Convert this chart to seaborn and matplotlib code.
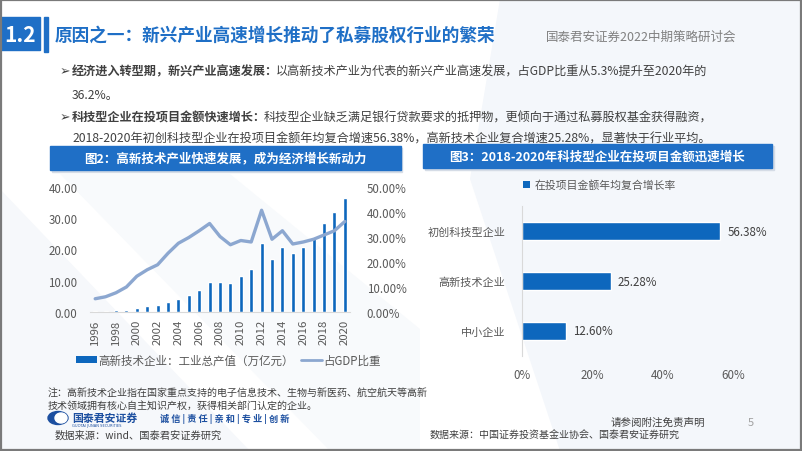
import numpy as np
import pandas as pd
import matplotlib
matplotlib.use("Agg")
import matplotlib.pyplot as plt
import seaborn as sns
from matplotlib.patches import Rectangle, Polygon, Patch, Ellipse
from matplotlib.lines import Line2D

# ---------------- data ----------------
years = [str(y) for y in range(1996, 2021)]
output_value = [0.2, 0.3, 0.5, 0.8, 1.3, 1.9, 2.2, 3.2, 4.2, 5.3, 6.9, 9.5, 9.5, 9.3,
                11.6, 13.8, 22.0, 17.1, 20.9, 18.8, 20.9, 24.1, 28.6, 32.1, 36.5]
gdp_share = [5.3, 6.1, 7.7, 10.0, 14.3, 16.9, 18.9, 23.5, 27.5, 29.8, 32.5, 35.4, 30.2, 26.9,
             28.6, 28.0, 40.7, 29.1, 32.5, 27.2, 28.0, 29.1, 30.8, 32.5, 36.2]
left_ticks = [0, 10, 20, 30, 40]
right_ticks = [0, 10, 20, 30, 40, 50]

categories = ["初创科技型企业", "高新技术企业", "中小企业"]
growth = [56.38, 25.28, 12.60]
growth_ticks = [0, 20, 40, 60]

# ---------------- style ----------------
sns.set_theme(style="white")
plt.rcParams['font.family'] = ['Noto Sans CJK SC', 'DejaVu Sans']
plt.rcParams['axes.unicode_minus'] = False

BLUE = "#1F6FC6"
BAR = "#0D67BD"
LINE = "#8CA7D0"
TXT = "#404040"
TICK = "#595959"

W, H = 802, 452
fig = plt.figure(figsize=(W / 100, H / 100), dpi=100)
fig.patch.set_facecolor("white")

bg = fig.add_axes([0, 0, 1, 1])
bg.set_xlim(0, W)
bg.set_ylim(H, 0)
bg.axis("off")
bg.set_zorder(0)

# faint background shapes
bg.add_patch(Polygon([(500, 0), (802, 0), (802, 452), (560, 452), (470, 180)],
                     closed=True, color="#F4F7FB", zorder=0, lw=0))
bg.add_patch(Polygon([(0, 190), (0, 452), (250, 452)],
                     closed=True, color="#F6F8FB", zorder=0, lw=0))
bg.add_patch(Polygon([(60, 175), (230, 175), (420, 330), (420, 452), (330, 452)],
                     closed=True, color="#F8FAFC", zorder=0, lw=0))

# frame
bg.add_patch(Rectangle((0.5, 0.5), W - 2, H - 2, fill=False, ec="#7A7A7A", lw=1.6, zorder=5))

# header
bg.add_patch(Rectangle((1, 18), 39, 33, color=BLUE, zorder=2))
bg.text(20.5, 35, "1.2", color="white", fontsize=15, fontweight="bold",
        ha="center", va="center", zorder=3)
bg.add_patch(Rectangle((44, 18), 4, 35, color=BLUE, zorder=2))
bg.text(55, 36, "原因之一：新兴产业高速增长推动了私募股权行业的繁荣", color=BLUE,
        fontsize=12.7, fontweight="bold", ha="left", va="center", zorder=3)
bg.text(546, 37, "国泰君安证券2022中期策略研讨会", color="#808080",
        fontsize=9, ha="left", va="center", zorder=3)

# bullets
FS = 8.75
def bullet_line(y, bold, rest, with_arrow=True, x=72):
    if with_arrow:
        bg.text(60, y, "➢", color=TXT, fontsize=9, ha="left", va="center",
                family="DejaVu Sans", zorder=3)
    if bold:
        t = bg.text(x, y, bold, color=TXT, fontsize=FS, fontweight="bold",
                    ha="left", va="center", zorder=3)
        bg.annotate(rest, xy=(1, 0.5), xycoords=t, xytext=(-2, 0),
                    textcoords="offset points", color=TXT, fontsize=FS,
                    ha="left", va="center", zorder=3)
    else:
        bg.text(x, y, rest, color=TXT, fontsize=FS, ha="left", va="center", zorder=3)

bullet_line(72, "经济进入转型期，新兴产业高速发展：",
            "以高新技术产业为代表的新兴产业高速发展，占GDP比重从5.3%提升至2020年的")
bullet_line(95, None, "36.2%。", with_arrow=False)
bullet_line(118, "科技型企业在投项目金额快速增长：",
            "科技型企业缺乏满足银行贷款要求的抵押物，更倾向于通过私募股权基金获得融资，")
bullet_line(139, None,
            "2018-2020年初创科技型企业在投项目金额年均复合增速56.38%，高新技术企业复合增速25.28%，显著快于行业平均。",
            with_arrow=False)

# chart title bands
bg.add_patch(Rectangle((52, 149), 350, 24, color="#D5DCE6", zorder=1))
bg.add_patch(Rectangle((50, 147), 351, 24, color=BLUE, zorder=2))
bg.text(225, 158.5, "图2：高新技术产业快速发展，成为经济增长新动力", color="white",
        fontsize=9, fontweight="bold", ha="center", va="center", zorder=3)
bg.add_patch(Rectangle((425, 147), 349, 24, color="#D5DCE6", zorder=1))
bg.add_patch(Rectangle((423, 145), 349, 24, color=BLUE, zorder=2))
bg.text(597, 157, "图3：2018-2020年科技型企业在投项目金额迅速增长", color="white",
        fontsize=9, fontweight="bold", ha="center", va="center", zorder=3)

# footnotes
bg.text(48, 394, "注：高新技术企业指在国家重点支持的电子信息技术、生物与新医药、航空航天等高新",
        color=TXT, fontsize=7.2, ha="left", va="center", zorder=3)
bg.text(48, 406, "技术领域拥有核心自主知识产权，获得相关部门认定的企业。",
        color=TXT, fontsize=7.2, ha="left", va="center", zorder=3)
# logo
bg.add_patch(Ellipse((58, 419), 20, 13, color="#1C4FA0", zorder=3))
bg.add_patch(Ellipse((61, 419), 12, 10, color="white", zorder=4))
bg.text(72, 419, "国泰君安证券", color="#1C4FA0", fontsize=7.8, fontweight="bold",
        ha="left", va="center", zorder=3)
bg.text(72, 426.5, "GUOTAI JUNAN SECURITIES", color="#1C4FA0", fontsize=2.6,
        ha="left", va="center", family="DejaVu Sans", zorder=3)
bg.text(160, 419, "诚 信 | 责 任 | 亲 和 | 专 业 | 创 新", color="#1C4FA0", fontsize=6.6,
        fontweight="bold", ha="left", va="center", zorder=3)
bg.text(55, 436, "数据来源：wind、国泰君安证券研究", color=TXT, fontsize=7.4,
        ha="left", va="center", zorder=3)
bg.text(611, 423, "请参阅附注免责声明", color=TXT, fontsize=7.6,
        ha="left", va="center", zorder=3)
bg.text(748, 423, "5", color="#A0A0A0", fontsize=8, ha="left", va="center", zorder=3)
bg.text(430, 436, "数据来源：中国证券投资基金业协会、国泰君安证券研究", color=TXT, fontsize=7.2,
        ha="left", va="center", zorder=3)


def px_axes(x0, y0, x1, y1):
    return fig.add_axes([x0 / W, 1 - y1 / H, (x1 - x0) / W, (y1 - y0) / H])

# ---------------- left chart ----------------
ax1 = px_axes(90, 188, 350, 313)
ax1.set_zorder(2)
ax1.patch.set_alpha(0)
df1 = pd.DataFrame({"year": years, "value": output_value, "share": gdp_share})
sns.barplot(data=df1, x="year", y="value", color=BAR, width=0.38, saturation=1,
            ax=ax1, zorder=2)
ax1.set_ylim(0, 40)
ax1.set_yticks(left_ticks)
ax1.set_yticklabels([f"{v:.2f}" for v in left_ticks])
ax1.set_xticks(range(0, len(years), 2))
ax1.set_xticklabels(years[::2], rotation=90)
ax1.set_xlim(-0.5, len(years) - 0.5)
ax1.set_xlabel("")
ax1.set_ylabel("")
for s in ["top", "right", "left"]:
    ax1.spines[s].set_visible(False)
ax1.spines["bottom"].set_color("#D9D9D9")
ax1.spines["bottom"].set_linewidth(0.8)
ax1.tick_params(axis="y", length=0, pad=9, labelsize=8.3, labelcolor=TICK)
ax1.tick_params(axis="x", length=0, pad=5, labelsize=8.2, labelcolor=TICK)

ax2 = ax1.twinx()
sns.lineplot(x=np.arange(len(years)), y=df1["share"].values, color=LINE, lw=2.4, ax=ax2)
ax2.lines[0].set_solid_joinstyle("round")
ax2.set_ylim(0, 50)
ax2.set_yticks(right_ticks)
ax2.set_yticklabels([f"{v:.2f}%" for v in right_ticks])
ax2.set_xlim(-0.5, len(years) - 0.5)
ax2.set_ylabel("")
for s in ["top", "right", "left", "bottom"]:
    ax2.spines[s].set_visible(False)
ax2.tick_params(axis="y", length=0, pad=12, labelsize=8.3, labelcolor=TICK)

leg1 = fig.legend(handles=[Patch(facecolor=BAR, edgecolor="none"),
                           Line2D([0], [0], color=LINE, lw=2)],
                  labels=["高新技术企业：工业总产值（万亿元）", "占GDP比重"],
                  loc="center left", bbox_to_anchor=(76 / W, 1 - 361 / H), ncol=2,
                  frameon=False, fontsize=8.3, handlelength=1.8, handleheight=0.5,
                  handletextpad=0.15, columnspacing=0.6, borderpad=0, borderaxespad=0)
for t in leg1.get_texts():
    t.set_color(TICK)

# ---------------- right chart ----------------
ax3 = px_axes(522, 207, 733, 357)
ax3.set_zorder(2)
ax3.patch.set_alpha(0)
df3 = pd.DataFrame({"cat": categories, "growth": growth})
sns.barplot(data=df3, x="growth", y="cat", orient="h", color=BAR, width=0.36,
            saturation=1, ax=ax3)
ax3.set_xlim(0, 60)
ax3.set_ylim(2.5, -0.5)
ax3.set_xticks(growth_ticks)
ax3.set_xticklabels([f"{v}%" for v in growth_ticks])
ax3.set_xlabel("")
ax3.set_ylabel("")
for s in ["top", "right", "bottom"]:
    ax3.spines[s].set_visible(False)
ax3.spines["left"].set_color("#D9D9D9")
ax3.spines["left"].set_linewidth(0.8)
ax3.tick_params(axis="y", length=0, pad=12, labelsize=8, labelcolor=TICK)
ax3.tick_params(axis="x", length=0, pad=9, labelsize=8.3, labelcolor=TICK)
ax3.bar_label(ax3.containers[0], labels=[f"{v:.2f}%" for v in growth], padding=5,
              fontsize=8.3, color=TXT)

leg3 = fig.legend(handles=[Patch(facecolor=BAR, edgecolor="none")],
                  labels=["在投项目金额年均复合增长率"],
                  loc="center left", bbox_to_anchor=(523 / W, 1 - 186 / H),
                  frameon=False, fontsize=7.8, handlelength=0.6, handleheight=0.6,
                  handletextpad=0.5, borderpad=0, borderaxespad=0)
for t in leg3.get_texts():
    t.set_color(TICK)

fig.savefig("out.png", dpi=100)
